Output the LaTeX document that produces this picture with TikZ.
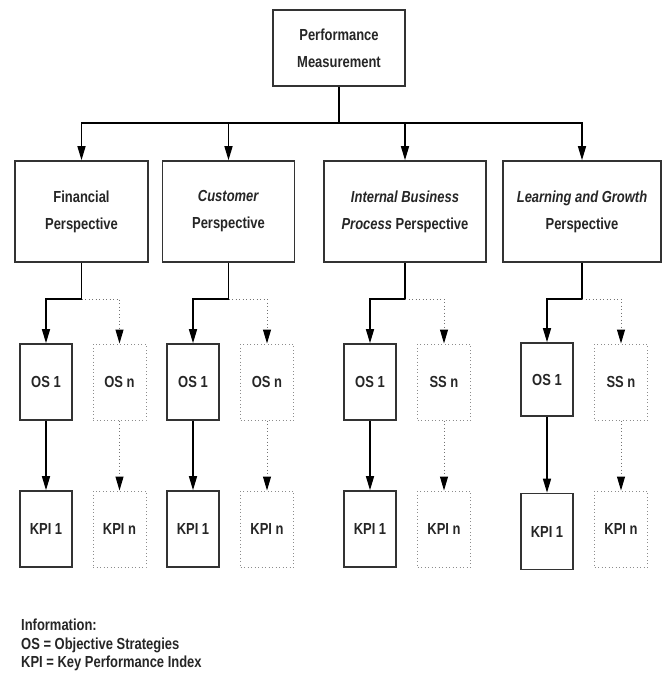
\documentclass[tikz,border=0pt]{standalone}
\usepackage{fontspec}
\setmainfont[FakeStretch=0.81]{Liberation Sans}
\usetikzlibrary{arrows.meta}
\definecolor{txt}{HTML}{262626}
\begin{document}
\begin{tikzpicture}[x=1pt,y=-1pt,
  box/.style={draw=black!80, line width=1.6pt, fill=white, align=center, inner sep=0pt,
    text=txt, font=\fontsize{16}{27}\selectfont\bfseries},
  smallbox/.style={box, minimum width=52pt, minimum height=76pt},
  dbox/.style={draw=black!45, line width=1pt, dash pattern=on 1pt off 2.5pt, align=center, inner sep=0pt,
    minimum width=53pt, minimum height=76pt, text=txt, font=\fontsize{16}{27}\selectfont\bfseries},
  persp/.style={box, minimum height=101pt},
  line/.style={line width=1.4pt, black},
  conn/.style={line, -{Triangle[width=8pt,length=14pt]}},
  dconn/.style={line width=1pt, black!55, dash pattern=on 1pt off 2.5pt,
    -{Triangle[width=8pt,length=14pt,color=black]}},
]
\useasboundingbox (0,0) rectangle (670,680);

% top
\node[box, minimum width=132pt, minimum height=76pt] (pm) at (339,48) {Performance\\Measurement};
\coordinate (bar) at (339,123);

% perspectives
\node[persp, minimum width=133pt] (fin) at (81.5,211.5) {Financial\\Perspective};
\node[persp, minimum width=132pt] (cus) at (228.5,211.5) {\textit{Customer}\\Perspective};
\node[persp, minimum width=162pt] (int) at (405,211.5) {\textit{Internal Business}\\\textit{Process} Perspective};
\node[persp, minimum width=158pt] (lea) at (582,211.5) {\textit{Learning and Growth}\\Perspective};

\draw[line] (pm.south) -- (bar);
\foreach \p in {fin,cus,int,lea}{
  \draw[conn] (bar) -| (\p.north);
}

% column nodes
\node[smallbox] (fos) at (46,382) {OS 1};
\node[dbox] (fosn) at (119.5,382) {OS n};
\node[smallbox] (fkpi) at (46,529) {KPI 1};
\node[dbox] (fkpin) at (119.5,529) {KPI n};

\node[smallbox] (cos) at (193,382) {OS 1};
\node[dbox] (cosn) at (267,382) {OS n};
\node[smallbox] (ckpi) at (193,529) {KPI 1};
\node[dbox] (ckpin) at (267,529) {KPI n};

\node[smallbox] (ios) at (370,382) {OS 1};
\node[dbox] (isn) at (444,382) {SS n};
\node[smallbox] (ikpi) at (370,529) {KPI 1};
\node[dbox] (ikpin) at (444,529) {KPI n};

\node[smallbox, minimum height=73pt] (los) at (547,379.5) {OS 1};
\node[dbox] (lsn) at (621,382) {SS n};
\node[smallbox] (lkpi) at (547,531.5) {KPI 1};
\node[dbox] (lkpin) at (621,529) {KPI n};

% junctions
\coordinate (fj) at (81.5,299);
\coordinate (cj) at (228.5,299);
\coordinate (ij) at (405,299);
\coordinate (lj) at (582,299);

\draw[line] (fin.south) -- (fj);
\draw[line] (cus.south) -- (cj);
\draw[line] (int.south) -- (ij);
\draw[line] (lea.south) -- (lj);

\draw[dconn] (fj) -| (fosn.north);
\draw[dconn] (cj) -| (cosn.north);
\draw[dconn] (ij) -| (isn.north);
\draw[dconn] (lj) -| (lsn.north);

\draw[conn] (fj) -| (fos.north);
\draw[conn] (cj) -| (cos.north);
\draw[conn] (ij) -| (ios.north);
\draw[conn] (lj) -| (los.north);

\draw[conn] (fos) -- (fkpi);
\draw[conn] (cos) -- (ckpi);
\draw[conn] (ios) -- (ikpi);
\draw[conn] (los) -- (lkpi);

\draw[dconn] (fosn) -- (fkpin);
\draw[dconn] (cosn) -- (ckpin);
\draw[dconn] (isn) -- (ikpin);
\draw[dconn] (lsn) -- (lkpin);

% legend
\node[anchor=north west, align=left, inner sep=0pt, text=txt, font=\fontsize{16}{18.5}\selectfont\bfseries] (legend) at (21,619)
  {Information:\\OS = Objective Strategies\\KPI = Key Performance Index};
\end{tikzpicture}
\end{document}
